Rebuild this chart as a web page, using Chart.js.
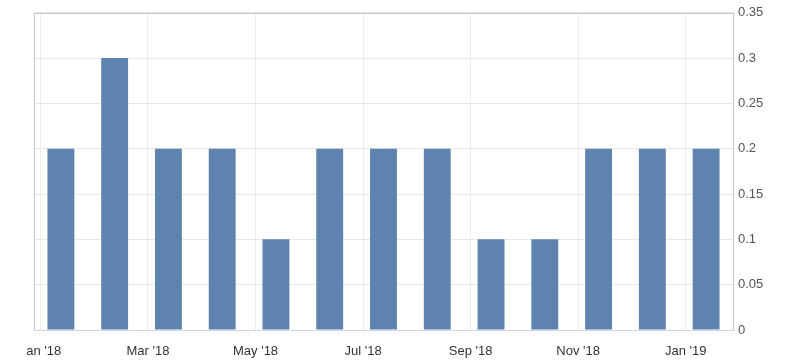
<!DOCTYPE html>
<html>
<head>
<meta charset="utf-8">
<script src="https://cdn.jsdelivr.net/npm/chart.js@4.4.0/dist/chart.umd.min.js"></script>
<style>
  html, body { margin: 0; padding: 0; background: #fff; }
  #wrap { position: relative; width: 800px; height: 364px; }
</style>
</head>
<body>
<div id="wrap"><canvas id="chart"></canvas></div>
<script>
// monthly values, Jan 2018 .. Jan 2019
const months = ['Jan 2018', 'Feb 2018', 'Mar 2018', 'Apr 2018', 'May 2018', 'Jun 2018',
  'Jul 2018', 'Aug 2018', 'Sep 2018', 'Oct 2018', 'Nov 2018', 'Dec 2018', 'Jan 2019'];
const values = [0.2, 0.3, 0.2, 0.2, 0.1, 0.2, 0.2, 0.2, 0.1, 0.1, 0.2, 0.2, 0.2];

// x axis labels sit on the start of every other month
const tickMonths = [0, 2, 4, 6, 8, 10, 12];
const tickLabels = ["Jan '18", "Mar '18", "May '18", "Jul '18", "Sep '18", "Nov '18", "Jan '19"];
const yTicks = [0, 0.05, 0.1, 0.15, 0.2, 0.25, 0.3, 0.35];

const monthStartShift = 0.38; // bars are drawn mid-month, grid lines at month start
const barColor = '#5e83ae';

// border round the plot + clip of the cut-off first label
const frame = {
  id: 'frame',
  beforeDraw(chart) {
    const ctx = chart.ctx;
    ctx.save();
    ctx.beginPath();
    ctx.rect(26, 0, chart.width, chart.height);
    ctx.clip();
  },
  afterDraw(chart) {
    const ctx = chart.ctx;
    const a = chart.chartArea;
    ctx.strokeStyle = '#c6c6c6';
    ctx.lineWidth = 1;
    ctx.beginPath();
    ctx.moveTo(Math.round(a.left) + 0.5, Math.round(a.bottom));
    ctx.lineTo(Math.round(a.left) + 0.5, Math.round(a.top) + 0.5);
    ctx.lineTo(Math.round(a.right), Math.round(a.top) + 0.5);
    ctx.stroke();
    ctx.restore();
  },
};

new Chart(document.getElementById('chart'), {
  type: 'bar',
  data: {
    labels: months,
    datasets: [{
      data: values.map((v, i) => ({ x: i, y: v })),
      backgroundColor: barColor,
      borderWidth: 0,
      barPercentage: 0.5,
      categoryPercentage: 1,
    }],
  },
  options: {
    responsive: true,
    maintainAspectRatio: false,
    animation: false,
    layout: { padding: { left: 34, top: 11, right: 0, bottom: 0 } },
    plugins: {
      legend: { display: false },
      title: { display: false },
      tooltip: { enabled: false },
    },
    scales: {
      x: {
        type: 'linear',
        min: -0.5,
        max: 12.5,
        offset: false,
        afterBuildTicks: scale => {
          scale.ticks = tickMonths.map(m => ({ value: m - monthStartShift }));
        },
        afterFit: scale => { scale.height = 34; },
        grid: { color: '#ececec', drawTicks: false, offset: false },
        border: { color: '#ccd6eb', width: 1 },
        ticks: {
          autoSkip: false,
          maxRotation: 0,
          padding: 14,
          color: '#333333',
          font: { family: 'Liberation Sans, Arial, sans-serif', size: 13 },
          callback: (v, i) => tickLabels[i],
        },
      },
      y: {
        position: 'right',
        min: 0,
        max: 0.35,
        afterBuildTicks: scale => {
          scale.ticks = yTicks.map(v => ({ value: v }));
        },
        afterFit: scale => { scale.width = 67; },
        grid: { color: '#e8e8e8', drawTicks: false },
        border: { color: '#c6c6c6', width: 1 },
        ticks: {
          padding: 5,
          color: '#555555',
          font: { family: 'Liberation Sans, Arial, sans-serif', size: 13 },
          callback: v => String(+v.toFixed(2)),
        },
      },
    },
  },
  plugins: [frame],
});
</script>
</body>
</html>
